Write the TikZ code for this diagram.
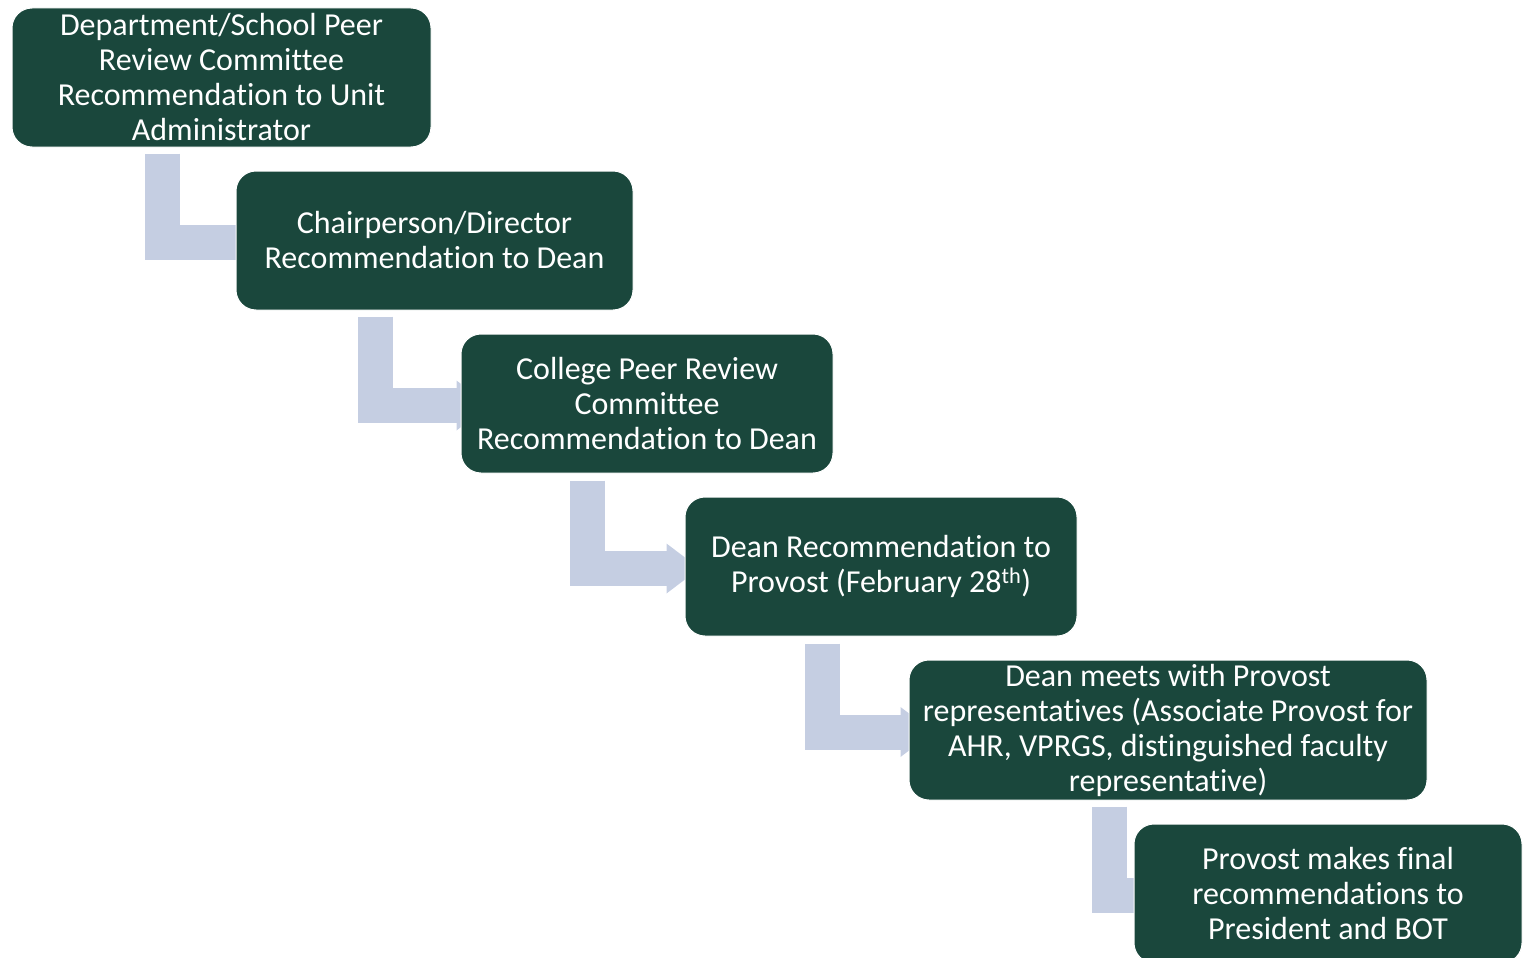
\documentclass[tikz,border=0pt]{standalone}
\usepackage{fontspec}
\setmainfont[RawFeature={-liga;-dlig;-clig;-calt}]{Carlito}
\usetikzlibrary{arrows.meta,calc}
\pgfdeclarelayer{bg}
\pgfsetlayers{bg,main}
\definecolor{boxgreen}{HTML}{1A473C}
\definecolor{connblue}{HTML}{C5CEE2}
\tikzset{
  stepbox/.style={draw=white, line width=1pt, fill=boxgreen, rounded corners=20pt,
    text=white, align=center, inner sep=0pt,
    font=\fontsize{32}{35}\selectfont},
  bentarrow/.style={draw=connblue, line width=35pt, line join=miter,
    -{Triangle[length=33pt,width=50pt,line width=0pt]}},
}
\begin{document}
\begin{tikzpicture}[x=1pt,y=-1pt]
\useasboundingbox (0,0) rectangle (1524,958);
\node[stepbox, minimum width=419pt, minimum height=139pt] (b1) at (221.5,77.5)
  {Department/School Peer\\Review Committee\\Recommendation to Unit\\Administrator};
\node[stepbox, minimum width=397pt, minimum height=139pt] (b2) at (434.5,240.5)
  {Chairperson/Director\\Recommendation to Dean};
\node[stepbox, minimum width=372pt, minimum height=139pt] (b3) at (647,403.5)
  {College Peer Review\\Committee\\Recommendation to Dean};
\node[stepbox, minimum width=392pt, minimum height=139pt] (b4) at (881,566.5)
  {Dean Recommendation to\\Provost (February 28\textsuperscript{th})};
\node[stepbox, minimum width=518pt, minimum height=140pt] (b5) at (1168,730)
  {Dean meets with Provost\\representatives (Associate Provost for\\AHR, VPRGS, distinguished faculty\\representative)};
\node[stepbox, minimum width=388pt, minimum height=139pt] (b6) at (1328,893.5)
  {Provost makes final\\recommendations to\\President and BOT};
\begin{pgfonlayer}{bg}
\draw[bentarrow] ($(b1.south west)+(150.5,6)$) |- ($(b2.west)+(36,2)$);
\draw[bentarrow] ($(b2.south west)+(139.5,6)$) |- ($(b3.west)+(29,2)$);
\draw[bentarrow] ($(b3.south west)+(126.5,7)$) |- ($(b4.west)+(15,2)$);
\draw[bentarrow] ($(b4.south west)+(137.5,7)$) |- ($(b5.west)+(25,2)$);
\draw[bentarrow] ($(b5.south west)+(200.5,6)$) |- ($(b6.west)+(34,2)$);
\end{pgfonlayer}
\end{tikzpicture}
\end{document}
